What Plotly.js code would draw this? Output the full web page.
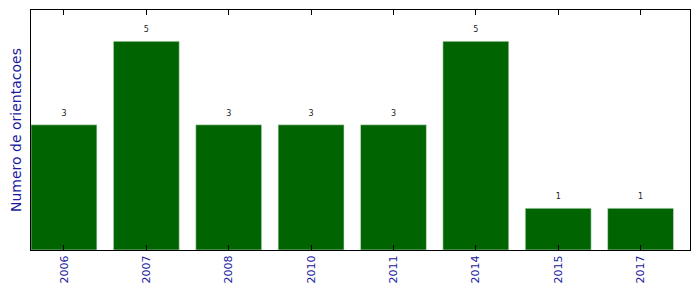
<!DOCTYPE html>
<html>
<head>
<meta charset="utf-8">
<script src="https://cdn.plot.ly/plotly-3.0.1.min.js"></script>
<style>html,body{margin:0;padding:0;background:#fff;}#chart{width:699px;height:292px;}</style>
</head>
<body>
<div id="chart"></div>
<script>
const years = ["2006", "2007", "2008", "2010", "2011", "2014", "2015", "2017"];
const counts = [3, 5, 3, 3, 3, 5, 1, 1];
const yLabel = "Numero de orientacoes";

const labelColor = "#1a1a9e";

const trace = {
  type: "bar",
  x: years,
  y: counts,
  width: 0.8,
  marker: {color: "#006400", line: {color: "#d8e8d8", width: 0.6}},
  hoverinfo: "skip"
};

const labels = {
  type: "scatter",
  mode: "text",
  x: years,
  y: counts.map(v => v + 0.27),
  text: counts.map(String),
  textposition: "middle center",
  textfont: {family: "DejaVu Sans", size: 8, color: "#222"},
  hoverinfo: "skip",
  cliponaxis: false
};

const layout = {
  width: 699,
  height: 292,
  margin: {l: 31, r: 9, t: 10, b: 42},
  paper_bgcolor: "#fff",
  plot_bgcolor: "#fff",
  showlegend: false,
  bargap: 0,
  xaxis: {
    type: "category",
    range: [-0.4, 7.6],
    showline: true,
    linecolor: "#000",
    linewidth: 1,
    mirror: "ticks",
    ticks: "inside",
    ticklen: 5,
    tickcolor: "#000",
    tickangle: -90,
    tickfont: {family: "DejaVu Sans", size: 11, color: labelColor},
    showgrid: false,
    zeroline: false,
    automargin: false
  },
  yaxis: {
    range: [0, 5.75],
    showline: true,
    linecolor: "#000",
    linewidth: 1,
    mirror: true,
    ticks: "",
    showticklabels: false,
    showgrid: false,
    zeroline: false,
    automargin: false,
    title: {text: yLabel, font: {family: "DejaVu Sans", size: 14, color: labelColor}, standoff: 5}
  }
};

Plotly.newPlot("chart", [trace, labels], layout, {staticPlot: true, displayModeBar: false});
</script>
</body>
</html>
